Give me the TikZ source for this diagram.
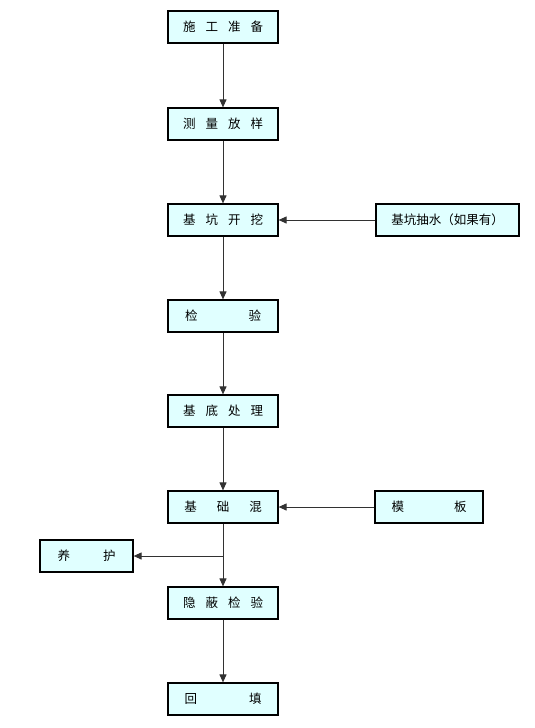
\documentclass[tikz,border=0pt]{standalone}
\usepackage{fontspec}
\newfontfamily\cjk{Noto Sans CJK SC}
\usetikzlibrary{arrows.meta}
\definecolor{boxfill}{RGB}{224,255,255}
\definecolor{linecol}{RGB}{50,50,50}
\tikzset{
  stepbox/.style={draw=black, line width=1.2pt, fill=boxfill, minimum height=32pt, inner sep=0pt,
    font=\cjk\fontsize{12.5}{14}\selectfont},
  flow/.style={draw=linecol, line width=1pt, -{Triangle[length=8pt,width=7pt]}},
  plain/.style={draw=linecol, line width=1pt}
}
\newcommand{\gap}[1]{\hspace{#1pt}}
\begin{document}
\begin{tikzpicture}[x=1pt,y=-1pt]
\useasboundingbox (0,0) rectangle (535,728);
\node[stepbox, minimum width=110pt] (n1) at (223,27) {施\gap{10}工\gap{10}准\gap{10}备};
\node[stepbox, minimum width=110pt] (n2) at (223,124) {测\gap{10}量\gap{10}放\gap{10}样};
\node[stepbox, minimum width=110pt] (n3) at (223,220) {基\gap{10}坑\gap{10}开\gap{10}挖};
\node[stepbox, minimum width=110pt] (n4) at (223,316) {检\gap{51}验};
\node[stepbox, minimum width=110pt] (n5) at (223,411) {基\gap{10}底\gap{10}处\gap{10}理};
\node[stepbox, minimum width=110pt] (n6) at (223,507) {基\gap{20}础\gap{20}混};
\node[stepbox, minimum width=110pt] (n7) at (223,603) {隐\gap{10}蔽\gap{10}检\gap{10}验};
\node[stepbox, minimum width=110pt] (n8) at (223,699) {回\gap{52}填};
\node[stepbox, minimum width=143pt] (s1) at (447.5,220) {基坑抽水（如果有）};
\node[stepbox, minimum width=108pt] (s2) at (429,507) {模\gap{50}板};
\node[stepbox, minimum width=93pt] (s3) at (86.5,556) {养\gap{33}护};
\coordinate (br) at (223,556);
\draw[flow] (n1) -- (n2);
\draw[flow] (n2) -- (n3);
\draw[flow] (n3) -- (n4);
\draw[flow] (n4) -- (n5);
\draw[flow] (n5) -- (n6);
\draw[flow] (n6) -- (n7);
\draw[flow] (n7) -- (n8);
\draw[flow] (s1) -- (n3);
\draw[flow] (s2) -- (n6);
\draw[flow] (br) -- (s3);
\end{tikzpicture}
\end{document}
